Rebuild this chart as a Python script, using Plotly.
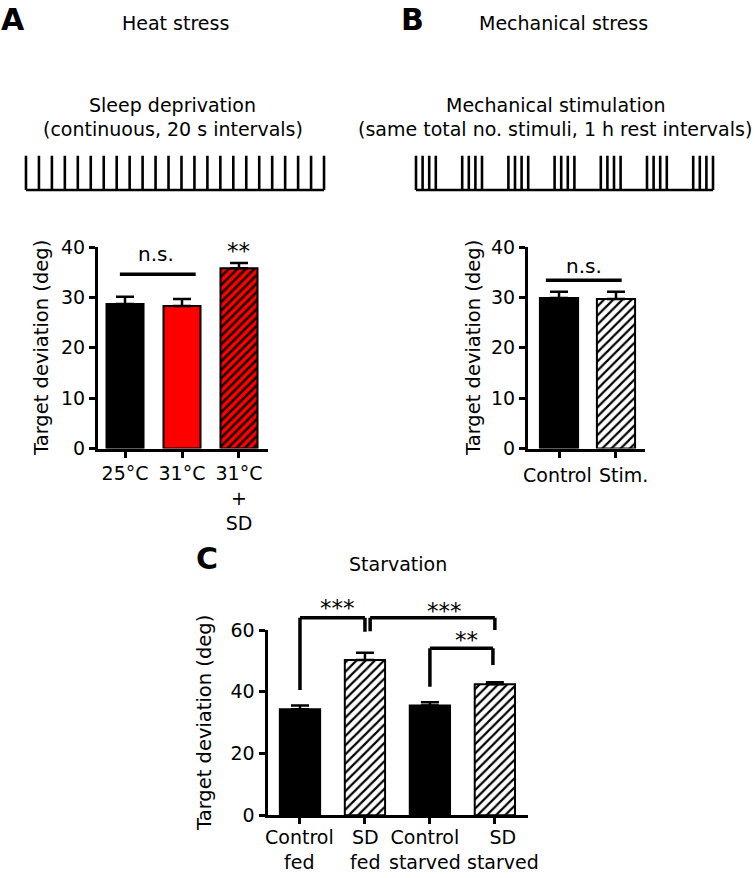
import plotly.graph_objects as go

W, H = 755, 878

# ---------------- data ----------------
heat_labels = ["25°C", "31°C", "31°C<br>+<br>SD"]
heat_mean = [28.7, 28.3, 35.8]
heat_sem = [1.4, 1.4, 1.0]

mech_labels = ["Control", "Stim."]
mech_mean = [29.9, 29.7]
mech_sem = [1.2, 1.4]

starv_labels = ["Control<br>fed", "SD<br>fed", "Control<br>starved", "SD<br>starved"]
starv_mean = [34.3, 50.3, 35.5, 42.4]
starv_sem = [1.2, 2.3, 1.1, 0.7]

# stimulus schematics (stimulus times, in stimulus-interval units)
sd_stim_times = [0, 1, 2, 3, 4, 5, 6, 7, 8, 9, 10, 11, 12, 13, 14, 15, 16, 17, 18, 19, 20, 21, 22, 23]
mech_stim_times = [0, 1, 2, 3, 7, 8, 9, 10, 14, 15, 16, 17, 21, 22, 23, 24,
                   28, 29, 30, 31, 35, 36, 37, 38, 42, 43, 44, 45]

FONT = "DejaVu Sans"
FS = 19
TICKFS = 19
STARFS = 23


def px(p):
    return p / W


def py(p):
    return 1 - p / H


# axis domains (paper)
A_X = [px(98), px(268)]
AB_Y = [py(448.5), py(247)]
B_X = [px(528), px(645)]
C_X = [px(267.5), px(528)]
C_Y = [py(815.2), py(630)]


def yA(v):
    return AB_Y[0] + v / 40 * (AB_Y[1] - AB_Y[0])


def yC(v):
    return C_Y[0] + v / 60 * (C_Y[1] - C_Y[0])


fig = go.Figure()

# bar styles: (fill colour, hatched?)
heat_style = [("black", False), ("#ff0000", False), ("#ff0000", True)]
mech_style = [("black", False), ("white", True)]
starv_style = [("black", False), ("white", True), ("black", False), ("white", True)]


def add_bars(labels, means, sems, styles, xa, ya, width, hatch_size, solidity):
    for i, lab in enumerate(labels):
        color, hatched = styles[i]
        marker = dict(color=color, line=dict(color="black", width=2))
        if hatched:
            marker["pattern"] = dict(shape="/", fgcolor="black", bgcolor=color,
                                     fgopacity=1, size=hatch_size, solidity=solidity,
                                     fillmode="replace")
        fig.add_trace(go.Bar(
            x=[lab], y=[means[i]], width=width, marker=marker,
            error_y=dict(type="data", symmetric=False, array=[sems[i]], arrayminus=[0],
                         color="black", thickness=2.5, width=9),
            xaxis=xa, yaxis=ya, showlegend=False, name=lab.replace("<br>", " ")))


add_bars(heat_labels, heat_mean, heat_sem, heat_style, "x", "y", 0.65, 6, 0.4)
add_bars(mech_labels, mech_mean, mech_sem, mech_style, "x2", "y2", 0.67, 6.5, 0.33)
add_bars(starv_labels, starv_mean, starv_sem, starv_style, "x3", "y3", 0.62, 6.5, 0.33)


# ---------- stimulus schematics ----------
def spike_xy(times):
    xs, ys = [], []
    for t in times:
        xs += [t, t, None]
        ys += [0, 1, None]
    xs += [times[0], times[-1]]
    ys += [0, 0]
    return xs, ys


sx, sy = spike_xy(sd_stim_times)
fig.add_trace(go.Scatter(x=sx, y=sy, mode="lines", line=dict(color="black", width=2.6),
                         xaxis="x4", yaxis="y4", showlegend=False, hoverinfo="skip"))
mx, my = spike_xy(mech_stim_times)
fig.add_trace(go.Scatter(x=mx, y=my, mode="lines", line=dict(color="black", width=2.6),
                         xaxis="x5", yaxis="y5", showlegend=False, hoverinfo="skip"))

axis_common = dict(showline=True, linecolor="black", linewidth=3, ticks="outside",
                   ticklen=6, tickwidth=3, tickcolor="black", showgrid=False,
                   zeroline=False, tickfont=dict(family=FONT, size=TICKFS, color="black"),
                   fixedrange=True, automargin=False, tickangle=0)
hidden = dict(visible=False, fixedrange=True, automargin=False)

fig.update_layout(
    xaxis=dict(domain=A_X, range=[-0.474, 2.509], anchor="y", type="category",
               categoryorder="array", categoryarray=heat_labels, **axis_common),
    yaxis=dict(domain=AB_Y, range=[0, 40], anchor="x",
               tickvals=[0, 10, 20, 30, 40], **axis_common),
    xaxis2=dict(domain=B_X, range=[-0.544, 1.509], anchor="y2", type="category",
                categoryorder="array", categoryarray=mech_labels,
                showticklabels=False, **axis_common),
    yaxis2=dict(domain=AB_Y, range=[0, 40], anchor="x2",
                tickvals=[0, 10, 20, 30, 40], **axis_common),
    xaxis3=dict(domain=C_X, range=[-0.5, 3.51], anchor="y3", type="category",
                categoryorder="array", categoryarray=starv_labels,
                showticklabels=False, **axis_common),
    yaxis3=dict(domain=C_Y, range=[0, 60], anchor="x3",
                tickvals=[0, 20, 40, 60], **axis_common),
    xaxis4=dict(domain=[px(19.5), px(330.5)], range=[-0.5, 23.5], anchor="y4", **hidden),
    yaxis4=dict(domain=[py(196.9), py(148.8)], range=[-0.2, 1.2], anchor="x4", **hidden),
    xaxis5=dict(domain=[px(409.4), px(719.6)], range=[-1, 46], anchor="y5", **hidden),
    yaxis5=dict(domain=[py(196.9), py(148.8)], range=[-0.2, 1.2], anchor="x5", **hidden),
)

shapes = []
annotations = []


def hline(xref, x0, x1, y, w=3.5):
    shapes.append(dict(type="line", xref=xref, yref="paper", x0=x0, x1=x1, y0=y, y1=y,
                       line=dict(color="black", width=w)))


def bracket(xref, xa, xb, ytop, ya, yb, w=3.5):
    shapes.append(dict(type="line", xref=xref, yref="paper", x0=xa, x1=xa, y0=ya, y1=ytop,
                       line=dict(color="black", width=w)))
    shapes.append(dict(type="line", xref=xref, yref="paper", x0=xa, x1=xb, y0=ytop, y1=ytop,
                       line=dict(color="black", width=w)))
    shapes.append(dict(type="line", xref=xref, yref="paper", x0=xb, x1=xb, y0=ytop, y1=yb,
                       line=dict(color="black", width=w)))


def txt(text, x, y, xref="paper", size=FS, bold=False, xanchor="center"):
    annotations.append(dict(text=f"<b>{text}</b>" if bold else text, x=x, y=y,
                            xref=xref, yref="paper", showarrow=False, xanchor=xanchor,
                            yanchor="middle", align="center",
                            font=dict(family=FONT, size=size, color="black")))


# category labels of panels B and C (placed slightly apart, as in the original)
for lab, xc in zip(mech_labels, [-0.035, 1.14]):
    txt(lab, xc, py(475), "x2", size=TICKFS)
for lab, xc in zip(starv_labels, [0.0, 1.0, 1.92, 3.12]):
    txt(lab, xc, py(849.5), "x3", size=TICKFS)

# significance marks (panel A & B)
hline("x", -0.09, 1.24, yA(34.6))
txt("n.s.", 0.55, yA(38.6), "x", size=20)
txt("**", 2, yA(39.2), "x", size=STARFS)

hline("x2", -0.23, 1.1, yA(33.4))
txt("n.s.", 0.44, yA(36.3), "x2", size=20)

# panel C brackets
bracket("x3", 0, 1.0, yC(64.0), yC(40.6), yC(59.4))
bracket("x3", 1.08, 3.0, yC(64.0), yC(59.6), yC(60.0))
bracket("x3", 2.0, 2.97, yC(54.1), yC(41.6), yC(48.7))
txt("***", 0.58, yC(67.2), "x3", size=STARFS)
txt("***", 2.23, yC(66.2), "x3", size=STARFS)
txt("**", 2.56, yC(56.9), "x3", size=STARFS)

# panel letters & titles
txt("A", px(12.5), py(20), size=30, bold=True)
txt("B", px(412.5), py(20), size=30, bold=True)
txt("C", px(206.7), py(558), size=30, bold=True)
txt("Heat stress", px(175), py(23))
txt("Mechanical stress", px(563), py(23))
txt("Starvation", px(398), py(564))
txt("Sleep deprivation", px(172), py(105))
txt("(continuous, 20 s intervals)", px(172.5), py(129))
txt("Mechanical stimulation", px(555), py(105))
txt("(same total no. stimuli, 1 h rest intervals)", px(554.7), py(129))

# y-axis titles
for xc, yc in [(41, 348), (473, 348), (204, 723)]:
    annotations.append(dict(text="Target deviation (deg)", x=px(xc), y=py(yc), xref="paper",
                            yref="paper", showarrow=False, textangle=-90,
                            xanchor="center", yanchor="middle",
                            font=dict(family=FONT, size=19.5, color="black")))

fig.update_layout(width=W, height=H, margin=dict(l=0, r=0, t=0, b=0, autoexpand=False),
                  paper_bgcolor="white", plot_bgcolor="white", barmode="overlay",
                  shapes=shapes, annotations=annotations, showlegend=False)

fig.write_html("out.html", config={"displayModeBar": False},
               post_script="document.body.style.margin='0px';"
                           "document.documentElement.style.overflow='hidden';")
